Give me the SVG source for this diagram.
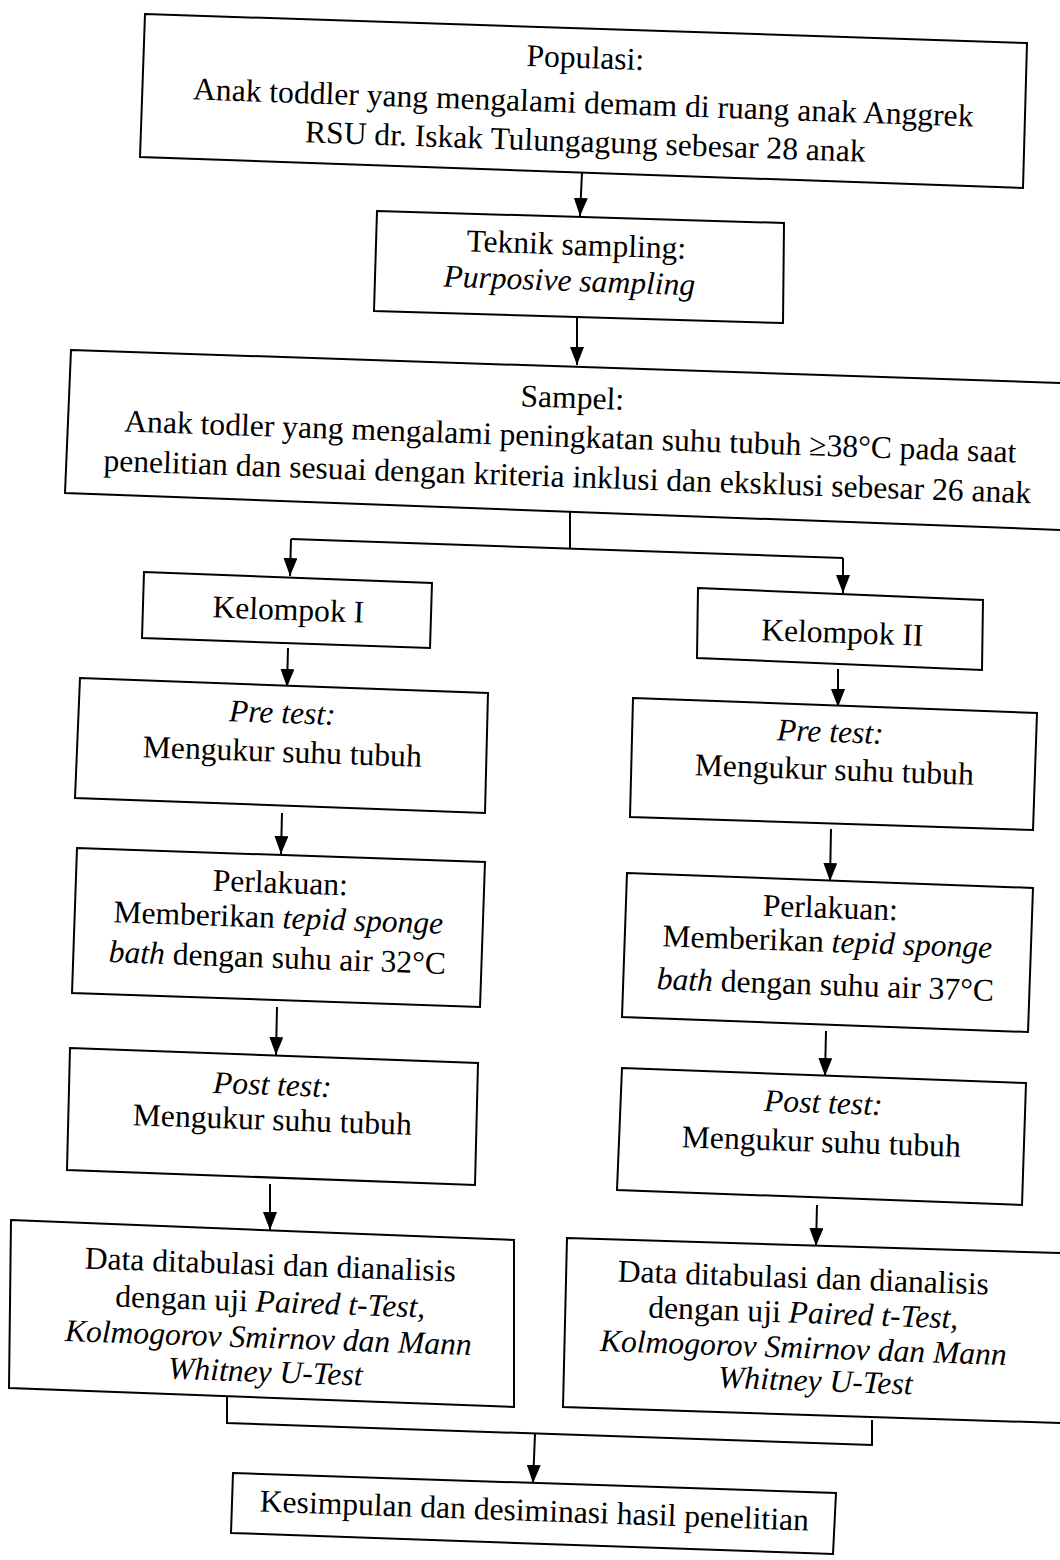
<svg xmlns="http://www.w3.org/2000/svg" width="1060" height="1560" viewBox="0 0 1060 1560">
<style>
.box{fill:#fff;stroke:#000;stroke-width:2}
.con{fill:none;stroke:#000;stroke-width:2}
text{font-family:"Liberation Serif","Times New Roman",serif;font-size:31.6px;fill:#000;text-anchor:middle}
.i{font-style:italic}
</style>
<defs>
<marker id="ah" viewBox="0 0 18 14" refX="18" refY="7" markerWidth="18" markerHeight="14" markerUnits="userSpaceOnUse" orient="auto">
<path d="M0,0 L18,7 L0,14 z" fill="#000"/>
</marker>
</defs>
<rect x="0" y="0" width="1060" height="1560" fill="#fff"/>

<g id="connectors">
<path class="con" d="M582,172 L580,216" marker-end="url(#ah)"/>
<path class="con" d="M577,317 L577,365" marker-end="url(#ah)"/>
<path class="con" d="M570,510 L570,548"/>
<path class="con" d="M291,539 L843,558"/>
<path class="con" d="M291,539 L290,576" marker-end="url(#ah)"/>
<path class="con" d="M843,558 L843,593" marker-end="url(#ah)"/>
<path class="con" d="M288,648 L287,687" marker-end="url(#ah)"/>
<path class="con" d="M282,813 L281,854" marker-end="url(#ah)"/>
<path class="con" d="M277,1007 L276,1055" marker-end="url(#ah)"/>
<path class="con" d="M270,1184 L270,1230" marker-end="url(#ah)"/>
<path class="con" d="M838,669 L838,707" marker-end="url(#ah)"/>
<path class="con" d="M831,829 L830,881" marker-end="url(#ah)"/>
<path class="con" d="M826,1031 L825,1076" marker-end="url(#ah)"/>
<path class="con" d="M817,1205 L816,1246" marker-end="url(#ah)"/>
<path class="con" d="M227,1397 L227,1423 L872,1445 L872,1420"/>
<path class="con" d="M535,1434 L533,1483" marker-end="url(#ah)"/>
</g>

<g id="populasi">
<polygon class="box" points="145,14 1027,43 1023,188 140,157"/>
<text x="585" y="68" transform="rotate(2 585 68)">Populasi:</text>
<text x="583" y="113" transform="rotate(2 583 113)">Anak toddler yang mengalami demam di ruang anak Anggrek</text>
<text x="585" y="152" transform="rotate(2 585 152)">RSU dr. Iskak Tulungagung sebesar 28 anak</text>
</g>

<g id="teknik">
<polygon class="box" points="377,211 784,223 783,323 374,311"/>
<text x="576" y="255" transform="rotate(2 576 255)">Teknik sampling:</text>
<text x="569" y="291" transform="rotate(2 569 291)" class="i">Purposive sampling</text>
</g>

<g id="sampel">
<polygon class="box" points="71,350 1090,384 1090,531 65,493"/>
<text x="572" y="408" transform="rotate(2 572 408)">Sampel:</text>
<text x="570" y="447" transform="rotate(2 570 447)">Anak todler yang mengalami peningkatan suhu tubuh ≥38°C pada saat</text>
<text x="567" y="487" transform="rotate(2 567 487)">penelitian dan sesuai dengan kriteria inklusi dan eksklusi sebesar 26 anak</text>
</g>

<g id="kelompok1">
<polygon class="box" points="144,572 432,583 430,648 142,638"/>
<text x="288" y="620" transform="rotate(2 288 620)">Kelompok I</text>
</g>

<g id="kelompok2">
<polygon class="box" points="698,588 983,600 982,670 697,658"/>
<text x="842" y="643" transform="rotate(2 842 643)">Kelompok II</text>
</g>

<g id="pretest1">
<polygon class="box" points="80,678 488,693 485,813 75,798"/>
<text x="282" y="723" transform="rotate(2 282 723)" class="i">Pre test:</text>
<text x="282" y="762" transform="rotate(2 282 762)">Mengukur suhu tubuh</text>
</g>

<g id="pretest2">
<polygon class="box" points="633,698 1037,713 1033,830 630,817"/>
<text x="830" y="742" transform="rotate(2 830 742)" class="i">Pre test:</text>
<text x="834" y="780" transform="rotate(2 834 780)">Mengukur suhu tubuh</text>
</g>

<g id="perlakuan1">
<polygon class="box" points="77,848 485,862 480,1007 72,993"/>
<text x="280" y="893" transform="rotate(2 280 893)">Perlakuan:</text>
<text x="278" y="928" transform="rotate(2 278 928)">Memberikan <tspan class="i">tepid sponge</tspan></text>
<text x="277" y="968" transform="rotate(2 277 968)"><tspan class="i">bath</tspan> dengan suhu air 32°C</text>
</g>

<g id="perlakuan2">
<polygon class="box" points="627,873 1033,888 1028,1032 622,1017"/>
<text x="830" y="918" transform="rotate(2 830 918)">Perlakuan:</text>
<text x="827" y="952" transform="rotate(2 827 952)">Memberikan <tspan class="i">tepid sponge</tspan></text>
<text x="825" y="995" transform="rotate(2 825 995)"><tspan class="i">bath</tspan> dengan suhu air 37°C</text>
</g>

<g id="posttest1">
<polygon class="box" points="70,1048 478,1063 475,1185 67,1170"/>
<text x="272" y="1095" transform="rotate(2 272 1095)" class="i">Post test:</text>
<text x="272" y="1130" transform="rotate(2 272 1130)">Mengukur suhu tubuh</text>
</g>

<g id="posttest2">
<polygon class="box" points="622,1068 1026,1083 1022,1205 617,1190"/>
<text x="823" y="1113" transform="rotate(2 823 1113)" class="i">Post test:</text>
<text x="821" y="1152" transform="rotate(2 821 1152)">Mengukur suhu tubuh</text>
</g>

<g id="analisis1">
<polygon class="box" points="11,1220 514,1240 514,1407 9,1388"/>
<text x="270" y="1275" transform="rotate(2 270 1275)">Data ditabulasi dan dianalisis</text>
<text x="270" y="1312" transform="rotate(2 270 1312)">dengan uji <tspan class="i">Paired t-Test,</tspan></text>
<text x="268" y="1348" transform="rotate(2 268 1348)" class="i">Kolmogorov Smirnov dan Mann</text>
<text x="265" y="1382" transform="rotate(2 265 1382)" class="i">Whitney U-Test</text>
</g>

<g id="analisis2">
<polygon class="box" points="567,1238 1090,1254 1090,1424 563,1407"/>
<text x="803" y="1288" transform="rotate(2 803 1288)">Data ditabulasi dan dianalisis</text>
<text x="803" y="1323" transform="rotate(2 803 1323)">dengan uji <tspan class="i">Paired t-Test,</tspan></text>
<text x="803" y="1358" transform="rotate(2 803 1358)" class="i">Kolmogorov Smirnov dan Mann</text>
<text x="815" y="1391" transform="rotate(2 815 1391)" class="i">Whitney U-Test</text>
</g>

<g id="kesimpulan">
<polygon class="box" points="233,1473 836,1493 833,1554 231,1533"/>
<text x="534" y="1521" transform="rotate(2 534 1521)">Kesimpulan dan desiminasi hasil penelitian</text>
</g>
</svg>
